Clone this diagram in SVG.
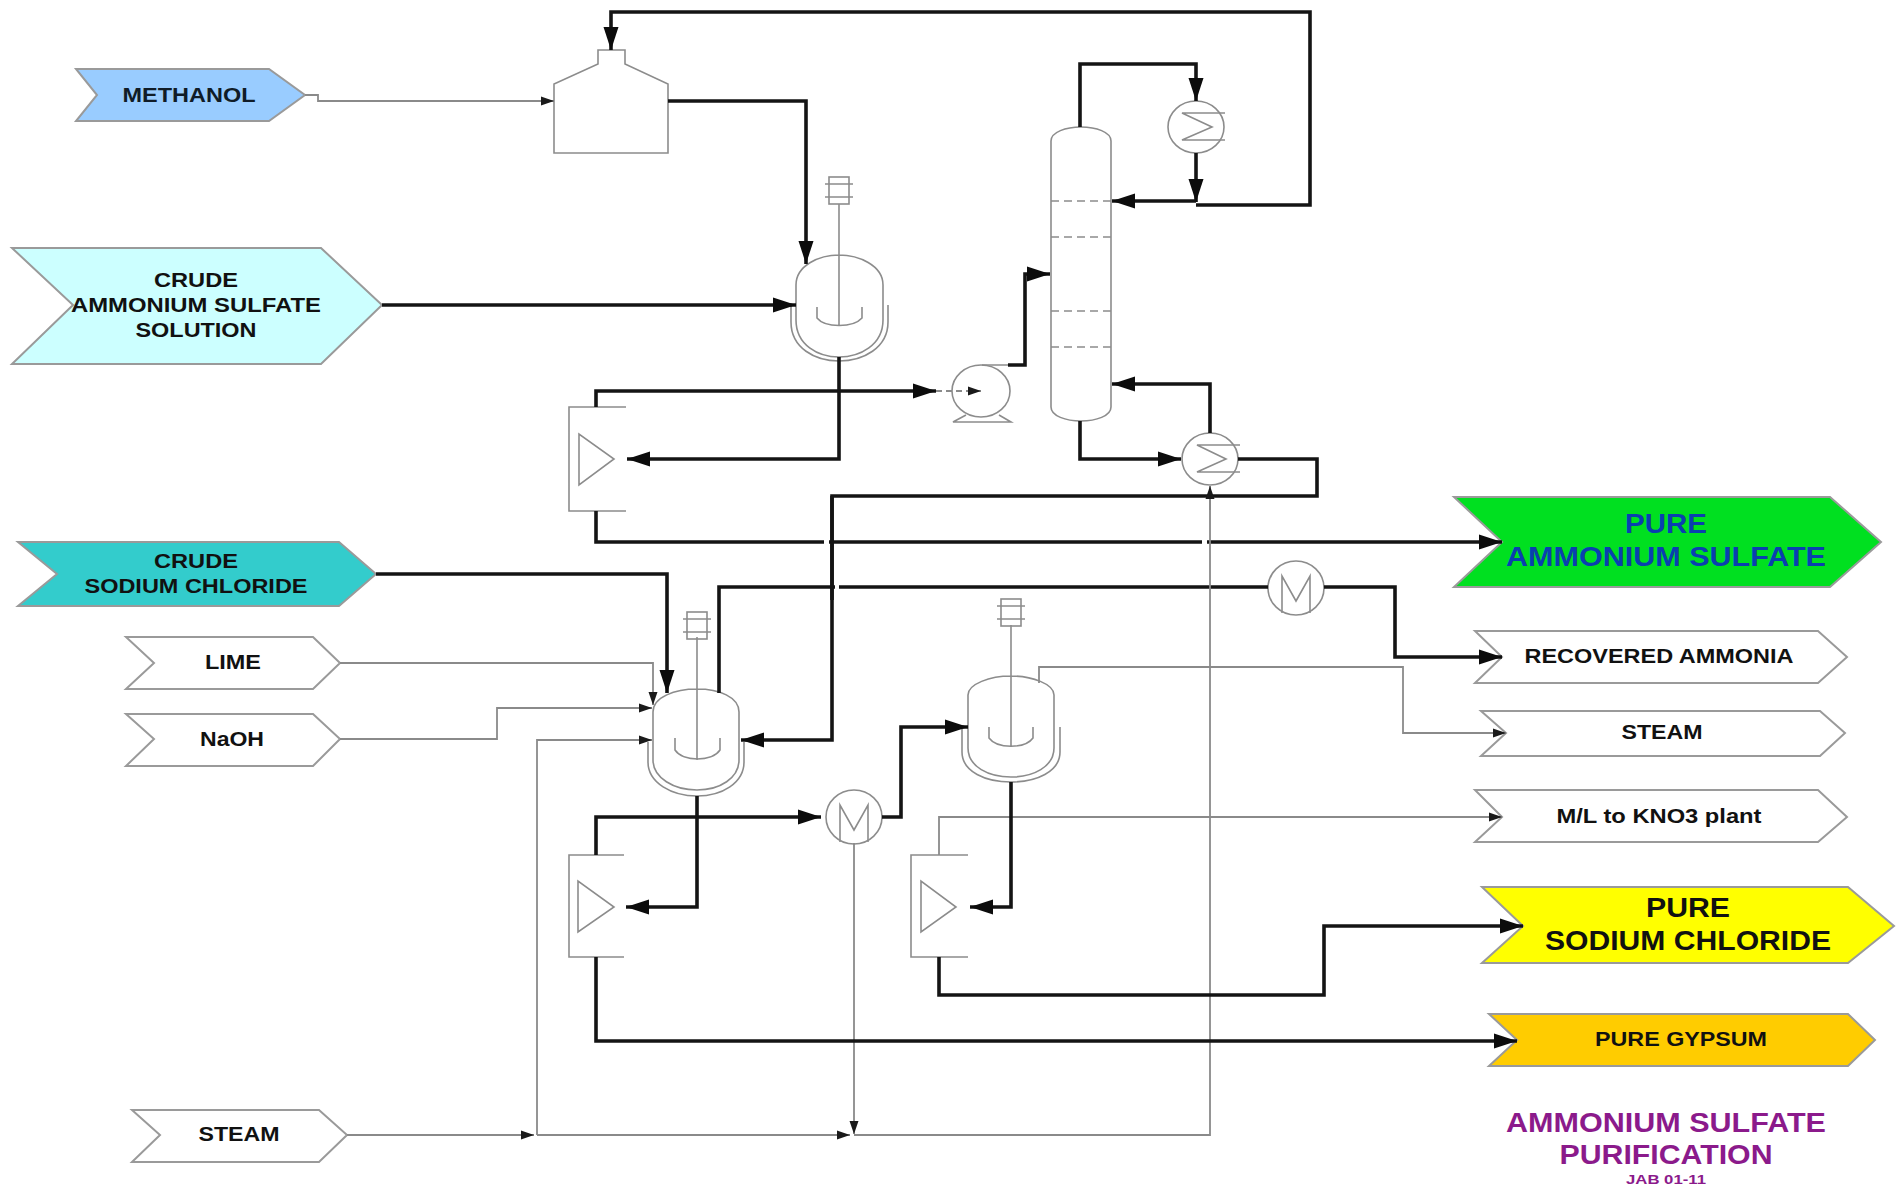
<svg xmlns="http://www.w3.org/2000/svg" width="1900" height="1188" viewBox="0 0 1900 1188">
<style>
text{font-family:"Liberation Sans",Arial,sans-serif;font-weight:bold;text-anchor:middle;fill:#111}
.k{fill:#101c28}
.chev{stroke:#9a9a9a;stroke-width:2}
.eq{fill:none;stroke:#8c8c8c;stroke-width:1.6}
.thin{fill:none;stroke:#8a8a8a;stroke-width:1.8}
.thick{fill:none;stroke:#141414;stroke-width:3.6}
.arrow{marker-end:url(#big)}
.tarrow{marker-end:url(#small)}
.tray{stroke:#8c8c8c;stroke-width:1.6;stroke-dasharray:8 5}
.gap{stroke:#fff;stroke-width:5}
</style>
<defs>
<marker id="big" markerUnits="userSpaceOnUse" markerWidth="24" markerHeight="18" refX="23" refY="9" orient="auto" viewBox="0 0 24 18"><path d="M0 1.5L23 9L0 16.5Z" fill="#0c0c0c"/></marker>
<marker id="small" markerUnits="userSpaceOnUse" markerWidth="14" markerHeight="10" refX="13" refY="5" orient="auto" viewBox="0 0 14 10"><path d="M0 0.5L13 5L0 9.5Z" fill="#1a1a1a"/></marker>
<g id="agit"><rect x="-10" y="0" width="20" height="27" class="eq"/><path d="M-14 7H14M-14 20H14" class="eq"/></g>
</defs>
<rect width="1900" height="1188" fill="#fff"/>

<g id="stream-methanol"><polygon class="chev" points="76,69 269,69 305,95 269,121 76,121 97,95" fill="#99ccff" stroke="#7a94b4"/><text x="189" y="102" font-size="21" textLength="133" lengthAdjust="spacingAndGlyphs" class="k">METHANOL</text></g>
<g id="stream-crude-as"><polygon class="chev" points="12,248 321,248 382,305 321,364 12,364 73,305" fill="#ccffff"/><text x="196" y="287" font-size="21" textLength="84" lengthAdjust="spacingAndGlyphs">CRUDE</text><text x="196" y="312" font-size="21" textLength="250" lengthAdjust="spacingAndGlyphs">AMMONIUM SULFATE</text><text x="196" y="337" font-size="21" textLength="121" lengthAdjust="spacingAndGlyphs">SOLUTION</text></g>
<g id="stream-crude-nacl"><polygon class="chev" points="18,542 339,542 376,574 339,606 18,606 57,574" fill="#33cccc"/><text x="196" y="568" font-size="21" textLength="84" lengthAdjust="spacingAndGlyphs">CRUDE</text><text x="196" y="593" font-size="21" textLength="223" lengthAdjust="spacingAndGlyphs">SODIUM CHLORIDE</text></g>
<g id="stream-lime"><polygon class="chev" points="126,637 313,637 340,663 313,689 126,689 154,663" fill="#fff"/><text x="233" y="669" font-size="20" textLength="56" lengthAdjust="spacingAndGlyphs">LIME</text></g>
<g id="stream-naoh"><polygon class="chev" points="126,714 313,714 340,739 313,766 126,766 154,739" fill="#fff"/><text x="232" y="746" font-size="20" textLength="64" lengthAdjust="spacingAndGlyphs">NaOH</text></g>
<g id="stream-steam-in"><polygon class="chev" points="132,1110 319,1110 347,1135 319,1162 132,1162 160,1135" fill="#fff"/><text x="239" y="1141" font-size="20" textLength="81" lengthAdjust="spacingAndGlyphs">STEAM</text></g>

<g id="out-pure-as"><polygon class="chev" points="1454,497 1830,497 1881,542 1830,587 1454,587 1502,542" fill="#00e020" stroke="#22bb33"/><text x="1666" y="533" font-size="27" textLength="82" lengthAdjust="spacingAndGlyphs" style="fill:#0a3fb0">PURE</text><text x="1666" y="566" font-size="27" textLength="320" lengthAdjust="spacingAndGlyphs" style="fill:#0a3fb0">AMMONIUM SULFATE</text></g>
<g id="out-ammonia"><polygon class="chev" points="1475,631 1818,631 1847,657 1818,683 1475,683 1502,657" fill="#fff"/><text x="1659" y="663" font-size="20" textLength="269" lengthAdjust="spacingAndGlyphs">RECOVERED AMMONIA</text></g>
<g id="out-steam"><polygon class="chev" points="1481,711 1820,711 1845,733 1820,756 1481,756 1506,733" fill="#fff"/><text x="1662" y="739" font-size="20" textLength="81" lengthAdjust="spacingAndGlyphs">STEAM</text></g>
<g id="out-ml"><polygon class="chev" points="1475,790 1818,790 1847,817 1818,842 1475,842 1502,817" fill="#fff"/><text x="1659" y="823" font-size="20" textLength="205" lengthAdjust="spacingAndGlyphs">M/L to KNO3 plant</text></g>
<g id="out-nacl"><polygon class="chev" points="1482,887 1848,887 1894,926 1848,963 1482,963 1523,926" fill="#ffff00" stroke="#b8b800"/><text x="1688" y="917" font-size="27" textLength="84" lengthAdjust="spacingAndGlyphs">PURE</text><text x="1688" y="950" font-size="27" textLength="286" lengthAdjust="spacingAndGlyphs">SODIUM CHLORIDE</text></g>
<g id="out-gypsum"><polygon class="chev" points="1489,1014 1848,1014 1875,1040 1848,1066 1489,1066 1517,1040" fill="#ffcc00" stroke="#c8a000"/><text x="1681" y="1046" font-size="20" textLength="172" lengthAdjust="spacingAndGlyphs">PURE GYPSUM</text></g>

<g id="title"><text x="1666" y="1132" font-size="27" textLength="320" lengthAdjust="spacingAndGlyphs" style="fill:#8b1a8b">AMMONIUM SULFATE</text><text x="1666" y="1164" font-size="27" textLength="213" lengthAdjust="spacingAndGlyphs" style="fill:#8b1a8b">PURIFICATION</text><text x="1666" y="1184" font-size="12" textLength="80" lengthAdjust="spacingAndGlyphs" style="fill:#8b1a8b">JAB 01-11</text></g>

<g id="tank"><path class="eq" d="M554 153V84L598 64V50H625V64L668 84V153Z"/></g>

<g id="reactor-1"><use href="#agit" x="839" y="177"/><path class="eq" d="M839 204V326M796 320V285C796 265 820 255 839 255C858 255 883 265 883 285V320C883 345 860 357 839 357C818 357 796 345 796 320ZM791 305V322C791 348 815 361 839 361C863 361 888 348 888 322V305M817 307V318C825 328 853 328 862 318V307"/></g>
<g id="reactor-2"><use href="#agit" x="697" y="612"/><path class="eq" d="M697 637V760M653 760V712C653 697 675 689 697 689C719 689 739 697 739 712V760C739 778 720 790 697 790C674 790 653 778 653 760ZM648 742V762C648 783 672 796 697 796C722 796 744 783 744 762V742M675 738V750C683 762 712 762 720 750V738"/></g>
<g id="reactor-3"><use href="#agit" x="1011" y="599"/><path class="eq" d="M1011 625V747M968 748V695C968 684 990 676 1011 676C1032 676 1054 684 1054 695V748C1054 767 1033 777 1011 777C989 777 968 767 968 748ZM962 727V752C962 772 986 782 1011 782C1036 782 1060 772 1060 752V727M989 727V738C997 749 1025 749 1033 738V727"/></g>

<g id="centrifuge-1"><path class="eq" d="M626 407H569V511H626M579 434V485L614 459Z"/></g>
<g id="centrifuge-2"><path class="eq" d="M624 855H569V957H624M578 881V932L614 907Z"/></g>
<g id="centrifuge-3"><path class="eq" d="M968 855H911V957H968M921 881V932L956 907Z"/></g>

<g id="pump"><ellipse class="eq" cx="981" cy="391" rx="29" ry="26"/><path class="eq" d="M966 415L953 422H1011L999 415M982 365H1008"/></g>

<g id="column"><path class="eq" d="M1051 141C1051 132 1066 127 1081 127C1096 127 1111 132 1111 141V407C1111 416 1096 421 1081 421C1066 421 1051 416 1051 407Z"/><path class="tray" d="M1051 201H1111M1051 237H1111M1051 311H1111M1051 347H1111"/></g>

<g id="condenser"><ellipse class="eq" cx="1196" cy="127" rx="28" ry="26"/><path class="eq" d="M1225 113H1182L1212 127L1182 140H1225"/></g>
<g id="reboiler"><ellipse class="eq" cx="1210" cy="459" rx="28" ry="26"/><path class="eq" d="M1240 445H1197L1226 459L1197 472H1240"/></g>
<g id="cooler-1"><ellipse class="eq" cx="854" cy="817" rx="28" ry="27"/><path class="eq" d="M840 842V805L854 830L868 805V842"/></g>
<g id="cooler-2"><ellipse class="eq" cx="1296" cy="588" rx="28" ry="27"/><path class="eq" d="M1282 613V576L1296 601L1310 576V613"/></g>

<g id="connectors">
<path class="thin tarrow" d="M305 95H318V101H554"/>
<path class="thick arrow" d="M668 101H806V264"/>
<path class="thick arrow" d="M382 305H796"/>
<path class="thick arrow" d="M1196 205H1310V12H611V50"/>
<path class="thick arrow" d="M1080 127V64H1196V101"/>
<path class="thick arrow" d="M1196 153V202"/>
<path class="thick arrow" d="M1196 201H1112"/>
<path class="thick arrow" d="M596 407V391H936"/>
<path class="thin" d="M936 391H975" stroke-dasharray="6 4"/>
<path class="thin tarrow" d="M972 391H981"/>
<path class="thick arrow" d="M839 357V459H627"/>
<path class="thick arrow" d="M1008 365H1025V274H1050"/>
<path class="thick arrow" d="M1080 421V459H1181"/>
<path class="thick arrow" d="M1210 433V384H1112"/>
<path class="thick arrow" d="M596 511V542H1502"/>
<path class="gap" d="M824 542H829M1202 542H1207"/>
<path class="thick arrow" d="M1238 459H1317V496H832V740H741"/>
<path class="thick arrow" d="M376 574H667V693"/>
<path class="thick" d="M719 693V587H1268"/>
<path class="gap" d="M835 587H839"/>
<path class="thick" d="M832 496V600"/>
<path class="thick arrow" d="M1324 587H1395V657H1502"/>
<path class="thin tarrow" d="M340 663H653V705"/>
<path class="thin tarrow" d="M340 739H497V708H652"/>
<path class="thin tarrow" d="M537 1135V740H652"/>
<path class="thin tarrow" d="M347 1135H534"/>
<path class="thin tarrow" d="M537 1135H850"/>
<path class="thin" d="M854 1135H1210V486"/>
<path class="thin tarrow" d="M1210 510V486"/>
<path class="thin tarrow" d="M854 843V1134"/>
<path class="thick arrow" d="M596 855V817H821"/>
<path class="thick arrow" d="M697 796V907H626"/>
<path class="thick arrow" d="M882 817H901V727H968"/>
<path class="thin tarrow" d="M1039 683V667H1403V733H1506"/>
<path class="thin tarrow" d="M939 855V817H1502"/>
<path class="thick arrow" d="M1011 782V907H970"/>
<path class="thick arrow" d="M939 957V995H1324V926H1523"/>
<path class="thick arrow" d="M596 957V1041H1517"/>
</g>
</svg>
